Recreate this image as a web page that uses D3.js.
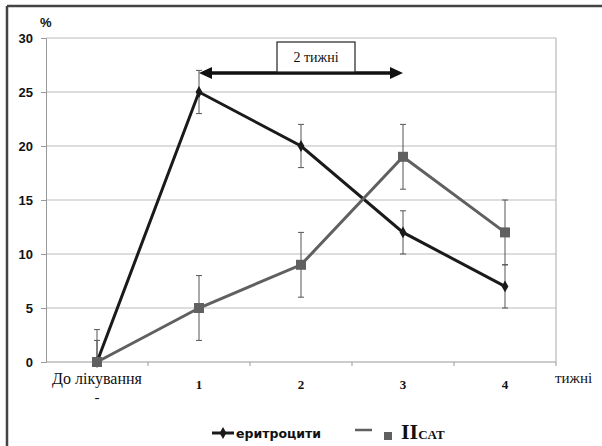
<!DOCTYPE html>
<html>
<head>
<meta charset="utf-8">
<script src="https://cdn.jsdelivr.net/npm/d3@7"></script>
<style>
  body { margin: 0; background: #fff; }
  svg { display: block; }
</style>
</head>
<body>
<svg></svg>
<script>
const categories = ["До лікування", "1", "2", "3", "4"];
const erythro = [0, 25, 20, 12, 7];
const erythroErr = [2, 2, 2, 2, 2];
const ppsat = [0, 5, 9, 19, 12];
const ppsatErr = [3, 3, 3, 3, 3];
const yTicks = [0, 5, 10, 15, 20, 25, 30];

const width = 602, height = 446;
const svg = d3.select("svg").attr("width", width).attr("height", height);

const serif = "'Liberation Serif', 'Times New Roman', 'DejaVu Serif', serif";
const sans = "'Liberation Sans', Arial, sans-serif";

const x = d3.scaleBand().domain(categories).range([46, 556]).padding(0);
const y = d3.scaleLinear().domain([0, 30]).range([362, 38]);

// outer frame (top and left only)
svg.append("line").attr("x1", 7).attr("x2", width).attr("y1", 6).attr("y2", 6)
    .attr("stroke", "#444").attr("stroke-width", 2.5);
svg.append("line").attr("x1", 7).attr("x2", 7).attr("y1", 6).attr("y2", height)
    .attr("stroke", "#444").attr("stroke-width", 2.5);

// gridlines
svg.append("g").selectAll("line")
    .data(yTicks.filter(d => d > 0))
    .enter().append("line")
    .attr("x1", 46).attr("x2", 556)
    .attr("y1", d => y(d)).attr("y2", d => y(d))
    .attr("stroke", "#bbb").attr("stroke-width", 1);

// right border of plot area
svg.append("line").attr("x1", 556).attr("x2", 556).attr("y1", y(30)).attr("y2", y(0))
    .attr("stroke", "#aaa");

// y axis
const yAxis = svg.append("g").attr("transform", "translate(46,0)")
    .call(d3.axisLeft(y).tickValues(yTicks).tickSize(5).tickPadding(8));
yAxis.select(".domain").attr("stroke", "#999");
yAxis.selectAll(".tick line").attr("stroke", "#999");
yAxis.selectAll("text").attr("font-family", sans)
    .attr("font-weight", "bold").attr("font-size", 13).attr("fill", "#111");

svg.append("text").attr("x", 40).attr("y", 27).text("%")
    .attr("font-family", sans).attr("font-weight", "bold")
    .attr("font-size", 13).attr("fill", "#111");

// x axis
const xAxis = svg.append("g").attr("transform", `translate(0,${y(0)})`);
xAxis.append("line").attr("x1", 46).attr("x2", 556).attr("stroke", "#999");
xAxis.selectAll(".tk").data(categories).enter().append("line")
    .attr("x1", d => x(d) + x.bandwidth()).attr("x2", d => x(d) + x.bandwidth())
    .attr("y1", 0).attr("y2", 4).attr("stroke", "#999");
xAxis.selectAll(".lbl").data(categories).enter().append("text")
    .attr("x", d => x(d) + x.bandwidth() / 2)
    .attr("y", (d, i) => i === 0 ? 22 : 27)
    .attr("text-anchor", "middle")
    .style("font-family", serif)
    .attr("font-weight", (d, i) => i === 0 ? "normal" : "bold")
    .attr("font-size", (d, i) => i === 0 ? 16 : 13)
    .attr("fill", "#111")
    .text(d => d);
xAxis.append("text").attr("x", x(categories[0]) + x.bandwidth() / 2).attr("y", 40)
    .attr("text-anchor", "middle").style("font-family", serif)
    .attr("font-size", 15).attr("fill", "#111").text("-");
svg.append("text").attr("x", 555).attr("y", 383).text("тижні")
    .style("font-family", serif)
    .attr("font-size", 15).attr("fill", "#111");

const cx = d => x(d) + x.bandwidth() / 2;

function drawSeries(vals, errs, color, marker) {
    const g = svg.append("g");
    const rows = categories.map((c, i) => ({ c, v: vals[i], e: errs[i] }));
    // error bars
    const eb = g.selectAll(".eb").data(rows).enter().append("g");
    eb.append("line")
        .attr("x1", d => cx(d.c)).attr("x2", d => cx(d.c))
        .attr("y1", d => y(d.v + d.e))
        .attr("y2", d => y(Math.max(0, d.v - d.e)))
        .attr("stroke", "#555").attr("stroke-width", 1);
    eb.append("line")
        .attr("x1", d => cx(d.c) - 3).attr("x2", d => cx(d.c) + 3)
        .attr("y1", d => y(d.v + d.e)).attr("y2", d => y(d.v + d.e))
        .attr("stroke", "#555");
    eb.filter(d => d.v - d.e >= 0).append("line")
        .attr("x1", d => cx(d.c) - 3).attr("x2", d => cx(d.c) + 3)
        .attr("y1", d => y(d.v - d.e)).attr("y2", d => y(d.v - d.e))
        .attr("stroke", "#555");
    const line = d3.line().x(d => cx(d.c)).y(d => y(d.v));
    g.append("path").attr("d", line(rows)).attr("fill", "none")
        .attr("stroke", color).attr("stroke-width", 3);
    g.selectAll(".m").data(rows).enter().append("path")
        .attr("transform", d => `translate(${cx(d.c)},${y(d.v)})`)
        .attr("d", marker)
        .attr("fill", color);
}

drawSeries(erythro, erythroErr, "#1a1a1a", d3.symbol(d3.symbolDiamond, 40)());
drawSeries(ppsat, ppsatErr, "#606060", "M-5,-5H5V5H-5Z");

// arrow annotation
const ay = 73;
const ax1 = cx("1"), ax2 = cx("3");
svg.append("line").attr("x1", ax1 + 10).attr("x2", ax2 - 10).attr("y1", ay).attr("y2", ay)
    .attr("stroke", "#111").attr("stroke-width", 3.5);
svg.append("path").attr("d", `M${ax1},${ay}L${ax1 + 13},${ay - 6}L${ax1 + 13},${ay + 6}Z`).attr("fill", "#111");
svg.append("path").attr("d", `M${ax2},${ay}L${ax2 - 13},${ay - 6}L${ax2 - 13},${ay + 6}Z`).attr("fill", "#111");
svg.append("rect").attr("x", 277).attr("y", 42).attr("width", 78).attr("height", 30)
    .attr("fill", "#fff").attr("stroke", "#222").attr("stroke-width", 1.2);
svg.append("text").attr("x", 316).attr("y", 62).attr("text-anchor", "middle")
    .style("font-family", serif).attr("font-size", 14)
    .attr("fill", "#111").text("2 тижні");

// legend
const lg = svg.append("g");
lg.append("line").attr("x1", 212).attr("x2", 234).attr("y1", 433).attr("y2", 433)
    .attr("stroke", "#1a1a1a").attr("stroke-width", 3);
lg.append("path").attr("transform", "translate(223,433)")
    .attr("d", d3.symbol(d3.symbolDiamond, 40)()).attr("fill", "#1a1a1a");
lg.append("text").attr("x", 236).attr("y", 438).text("еритроцити")
    .attr("font-family", "'DejaVu Sans', sans-serif").attr("font-weight", "bold")
    .attr("font-size", 12.5).attr("fill", "#111");
lg.append("line").attr("x1", 355).attr("x2", 372).attr("y1", 430).attr("y2", 430)
    .attr("stroke", "#606060").attr("stroke-width", 2.5);
lg.append("rect").attr("x", 384).attr("y", 432).attr("width", 8).attr("height", 8).attr("fill", "#606060");
const lt = lg.append("text").attr("x", 401).attr("y", 439)
    .style("font-family", serif).attr("font-weight", "bold")
    .attr("fill", "#111");
lt.append("tspan").attr("font-size", 22).text("ІІ");
lt.append("tspan").attr("font-size", 13).text("CAT");
</script>
</body>
</html>
